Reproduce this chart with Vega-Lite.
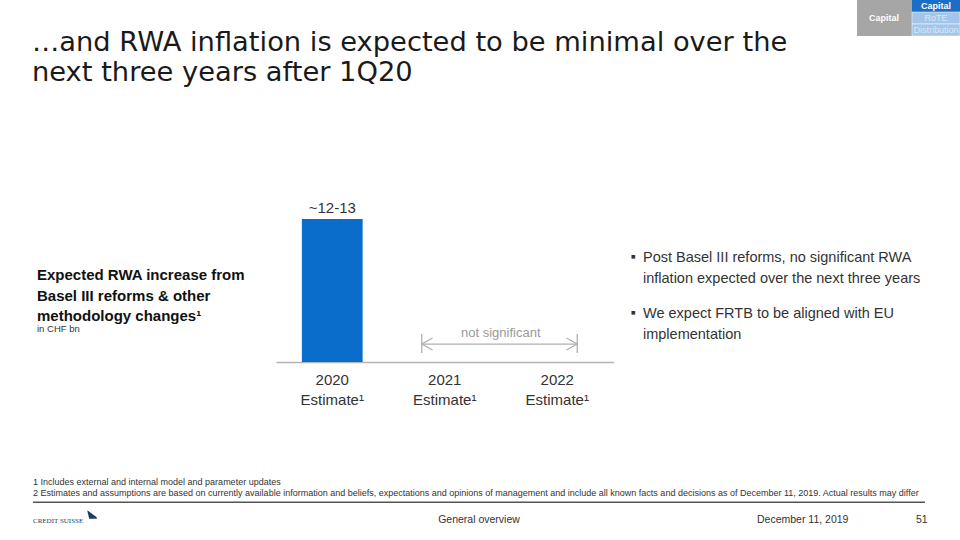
{
  "$schema": "https://vega.github.io/schema/vega-lite/v6.json",
  "width": 337.5,
  "height": 143,
  "autosize": {"type": "none"},
  "padding": {"left": 276, "top": 219, "right": 346.5, "bottom": 178},
  "background": "white",
  "config": {"view": {"stroke": null}, "font": "Liberation Sans", "text": {"font": "Liberation Sans"}},
  "layer": [
    {
      "data": {"values": [
        {"year": "2020", "value": 12.5, "label": "~12-13"},
        {"year": "2021", "value": null, "label": ""},
        {"year": "2022", "value": null, "label": ""}
      ]},
      "layer": [
        {
          "mark": {"type": "bar", "color": "#0a6ccb"},
          "encoding": {
            "x": {"field": "year", "type": "nominal",
              "scale": {"domain": ["2020", "2021", "2022"], "paddingInner": 0.46, "paddingOuter": 0.23},
              "axis": {"title": null, "domainColor": "#b4b4b4", "domainWidth": 1.5, "ticks": false, "labelFontSize": 15, "labelColor": "#333333", "labelPadding": 10, "labelLineHeight": 20.5, "labelAngle": 0, "labelExpr": "[datum.label, 'Estimate¹']"}},
            "y": {"field": "value", "type": "quantitative", "scale": {"domain": [0, 12.5], "nice": false}, "axis": null}
          }
        },
        {
          "mark": {"type": "text", "fontSize": 15, "color": "#333333", "baseline": "middle", "dy": -11},
          "encoding": {
            "x": {"field": "year", "type": "nominal"},
            "y": {"field": "value", "type": "quantitative"},
            "text": {"field": "label"}
          }
        }
      ]
    },
    {
      "data": {"values": [{"note": "not significant"}]},
      "layer": [
        {
          "mark": {"type": "rule", "color": "#b0b0b0", "strokeWidth": 1.3, "xOffset": -23, "x2Offset": 20},
          "encoding": {"x": {"datum": "2021"}, "x2": {"datum": "2022"}, "y": {"datum": 1.57}}
        },
        {
          "mark": {"type": "rule", "color": "#b0b0b0", "strokeWidth": 1.3, "xOffset": -23},
          "encoding": {"x": {"datum": "2021"}, "y": {"datum": 0.79}, "y2": {"datum": 2.45}}
        },
        {
          "mark": {"type": "rule", "color": "#b0b0b0", "strokeWidth": 1.3, "xOffset": 20},
          "encoding": {"x": {"datum": "2022"}, "y": {"datum": 0.79}, "y2": {"datum": 2.45}}
        },
        {
          "mark": {"type": "point", "shape": "M 1.8 -1 L 0 0 L 1.8 1", "size": 144, "filled": false, "stroke": "#b0b0b0", "strokeWidth": 1.3, "opacity": 1, "xOffset": -23},
          "encoding": {"x": {"datum": "2021"}, "y": {"datum": 1.57}}
        },
        {
          "mark": {"type": "point", "shape": "M -1.8 -1 L 0 0 L -1.8 1", "size": 144, "filled": false, "stroke": "#b0b0b0", "strokeWidth": 1.3, "opacity": 1, "xOffset": 20},
          "encoding": {"x": {"datum": "2022"}, "y": {"datum": 1.57}}
        },
        {
          "mark": {"type": "text", "fontSize": 13, "color": "#9a9a9a", "baseline": "middle", "xOffset": 56},
          "encoding": {"x": {"datum": "2021"}, "y": {"datum": 2.53}, "text": {"field": "note"}}
        }
      ]
    },
    {
      "data": {"values": [{"t": ["…and RWA inflation is expected to be minimal over the", "next three years after 1Q20"]}]},
      "mark": {"type": "text", "x": -244, "y": -168, "align": "left", "baseline": "alphabetic", "fontSize": 27.3, "lineHeight": 30, "font": "DejaVu Sans", "color": "#1a1a1a"},
      "encoding": {"text": {"field": "t"}}
    },
    {
      "data": {"values": [{"t": ["Expected RWA increase from", "Basel III reforms & other", "methodology changes¹"]}]},
      "mark": {"type": "text", "x": -239, "y": 56, "align": "left", "baseline": "middle", "fontSize": 15, "fontWeight": "bold", "lineHeight": 20.5, "color": "#111111"},
      "encoding": {"text": {"field": "t"}}
    },
    {
      "data": {"values": [{"t": "in CHF bn"}]},
      "mark": {"type": "text", "x": -239, "y": 110, "align": "left", "baseline": "middle", "fontSize": 9.5, "color": "#333333"},
      "encoding": {"text": {"field": "t"}}
    },
    {
      "data": {"values": [{"t": ["Post Basel III reforms, no significant RWA", "inflation expected over the next three years"]}]},
      "mark": {"type": "text", "x": 367, "y": 39, "align": "left", "baseline": "middle", "fontSize": 14.5, "lineHeight": 20.5, "color": "#333333"},
      "encoding": {"text": {"field": "t"}}
    },
    {
      "data": {"values": [{"t": ["We expect FRTB to be aligned with EU", "implementation"]}]},
      "mark": {"type": "text", "x": 367, "y": 95, "align": "left", "baseline": "middle", "fontSize": 14.5, "lineHeight": 20.5, "color": "#333333"},
      "encoding": {"text": {"field": "t"}}
    },
    {
      "data": {"values": [{"t": "■"}]},
      "mark": {"type": "text", "x": 355, "y": 38, "align": "left", "baseline": "middle", "fontSize": 7.5, "color": "#333333"},
      "encoding": {"text": {"field": "t"}}
    },
    {
      "data": {"values": [{"t": "■"}]},
      "mark": {"type": "text", "x": 355, "y": 94, "align": "left", "baseline": "middle", "fontSize": 7.5, "color": "#333333"},
      "encoding": {"text": {"field": "t"}}
    },
    {
      "data": {"values": [{"t": ["1 Includes external and internal model and parameter updates", "2 Estimates and assumptions are based on currently available information and beliefs, expectations and opinions of management and include all known facts and decisions as of December 11, 2019. Actual results may differ"]}]},
      "mark": {"type": "text", "x": -243, "y": 263, "align": "left", "baseline": "middle", "fontSize": 9, "lineHeight": 11, "color": "#333333"},
      "encoding": {"text": {"field": "t"}}
    },
    {
      "data": {"values": [{}]},
      "mark": {"type": "rect", "x": -243, "x2": 649, "y": 282.5, "y2": 284, "color": "#555555"},
      "encoding": {}
    },
    {
      "data": {"values": [{"t": "General overview"}]},
      "mark": {"type": "text", "x": 203, "y": 301, "align": "center", "baseline": "middle", "fontSize": 10.5, "color": "#333333"},
      "encoding": {"text": {"field": "t"}}
    },
    {
      "data": {"values": [{"t": "December 11, 2019"}]},
      "mark": {"type": "text", "x": 481, "y": 301, "align": "left", "baseline": "middle", "fontSize": 10.5, "color": "#333333"},
      "encoding": {"text": {"field": "t"}}
    },
    {
      "data": {"values": [{"t": "51"}]},
      "mark": {"type": "text", "x": 640, "y": 301, "align": "left", "baseline": "middle", "fontSize": 10.5, "color": "#333333"},
      "encoding": {"text": {"field": "t"}}
    },
    {
      "data": {"values": [{"t": "CREDIT SUISSE"}]},
      "mark": {"type": "text", "x": -243, "y": 302, "align": "left", "baseline": "middle", "fontSize": 7, "font": "Liberation Serif", "color": "#1f3a64"},
      "encoding": {"text": {"field": "t"}}
    },
    {
      "data": {"values": [{}]},
      "mark": {"type": "point", "x": -184, "y": 296, "shape": "M -1 -1 L 1 0.5 L 1 0.8 L -0.6 0.8 Z", "size": 90, "filled": true, "color": "#1f3a64", "opacity": 1},
      "encoding": {}
    },
    {
      "data": {"values": [{}]},
      "mark": {"type": "rect", "x": 581, "x2": 636, "y": -219, "y2": -183, "color": "#a6a6a6"},
      "encoding": {}
    },
    {
      "data": {"values": [{}]},
      "mark": {"type": "rect", "x": 636, "x2": 684, "y": -219, "y2": -207, "color": "#1a6ec6"},
      "encoding": {}
    },
    {
      "data": {"values": [{}]},
      "mark": {"type": "rect", "x": 636, "x2": 684, "y": -207, "y2": -195, "color": "#a4c5ea", "stroke": "#ffffff", "strokeWidth": 0.5},
      "encoding": {}
    },
    {
      "data": {"values": [{}]},
      "mark": {"type": "rect", "x": 636, "x2": 684, "y": -195, "y2": -183, "color": "#a4c5ea", "stroke": "#ffffff", "strokeWidth": 0.5},
      "encoding": {}
    },
    {
      "data": {"values": [{"t": "Capital"}]},
      "mark": {"type": "text", "x": 608, "y": -201, "align": "center", "baseline": "middle", "fontSize": 9, "fontWeight": "bold", "color": "#ffffff"},
      "encoding": {"text": {"field": "t"}}
    },
    {
      "data": {"values": [{"t": "Capital"}]},
      "mark": {"type": "text", "x": 660, "y": -213, "align": "center", "baseline": "middle", "fontSize": 9, "fontWeight": "bold", "color": "#ffffff"},
      "encoding": {"text": {"field": "t"}}
    },
    {
      "data": {"values": [{"t": "RoTE"}]},
      "mark": {"type": "text", "x": 660, "y": -201, "align": "center", "baseline": "middle", "fontSize": 9, "color": "#dbe8f6"},
      "encoding": {"text": {"field": "t"}}
    },
    {
      "data": {"values": [{"t": "Distribution"}]},
      "mark": {"type": "text", "x": 660, "y": -189, "align": "center", "baseline": "middle", "fontSize": 9, "color": "#dbe8f6"},
      "encoding": {"text": {"field": "t"}}
    }
  ]
}
